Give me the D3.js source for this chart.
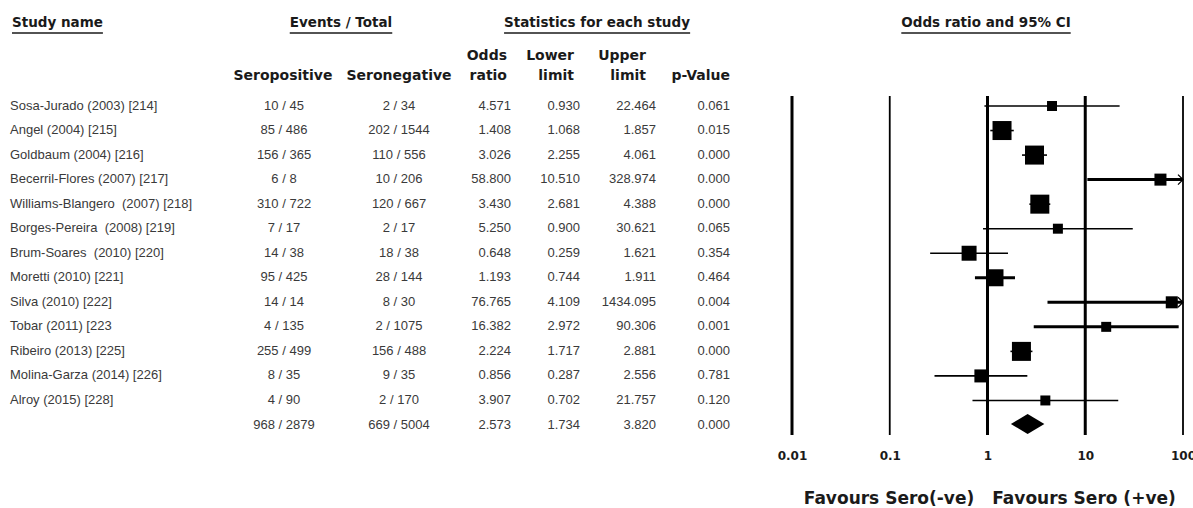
<!DOCTYPE html>
<html>
<head>
<meta charset="utf-8">
<script src="https://cdn.jsdelivr.net/npm/d3@7"></script>
<style>
  html, body { margin: 0; padding: 0; background: #fff; }
  svg { display: block; }
  .hdr { font-family: "DejaVu Sans", sans-serif; font-weight: bold; fill: #1a1a1a; }
  .cell { font-family: "Liberation Sans", Arial, sans-serif; font-size: 13px; fill: #3a3a3a; white-space: pre; }
</style>
</head>
<body>
<div id="forest"></div>
<script>
// Forest plot: seropositivity and odds ratio per study
const studies = [
  "Sosa-Jurado (2003) [214]", "Angel (2004) [215]", "Goldbaum (2004) [216]",
  "Becerril-Flores (2007) [217]", "Williams-Blangero  (2007) [218]", "Borges-Pereira  (2008) [219]",
  "Brum-Soares  (2010) [220]", "Moretti (2010) [221]", "Silva (2010) [222]",
  "Tobar (2011) [223", "Ribeiro (2013) [225]", "Molina-Garza (2014) [226]", "Alroy (2015) [228]"
];
const seroPos = ["10 / 45", "85 / 486", "156 / 365", "6 / 8", "310 / 722", "7 / 17", "14 / 38",
  "95 / 425", "14 / 14", "4 / 135", "255 / 499", "8 / 35", "4 / 90"];
const seroNeg = ["2 / 34", "202 / 1544", "110 / 556", "10 / 206", "120 / 667", "2 / 17", "18 / 38",
  "28 / 144", "8 / 30", "2 / 1075", "156 / 488", "9 / 35", "2 / 170"];
const oddsRatio = [4.571, 1.408, 3.026, 58.800, 3.430, 5.250, 0.648, 1.193, 76.765, 16.382, 2.224, 0.856, 3.907];
const lowerLimit = [0.930, 1.068, 2.255, 10.510, 2.681, 0.900, 0.259, 0.744, 4.109, 2.972, 1.717, 0.287, 0.702];
const upperLimit = [22.464, 1.857, 4.061, 328.974, 4.388, 30.621, 1.621, 1.911, 1434.095, 90.306, 2.881, 2.556, 21.757];
const pValue = [0.061, 0.015, 0.000, 0.000, 0.000, 0.065, 0.354, 0.464, 0.004, 0.001, 0.000, 0.781, 0.120];
// relative weight (%)
const weight = [4.0, 14.5, 14.5, 5.8, 14.5, 4.0, 9.0, 11.6, 5.8, 4.0, 14.5, 6.8, 4.0];

const totalRow = { pos: "968 / 2879", neg: "669 / 5004", or: 2.573, lo: 1.734, hi: 3.820, p: 0.000 };

const axisTicks = [0.01, 0.1, 1, 10, 100];
const favourLabels = ["Favours Sero(-ve)", "Favours Sero (+ve)"];

// ---- layout ----
const W = 1193, H = 508;
const svg = d3.select("#forest").append("svg").attr("width", W).attr("height", H);

const x = d3.scaleLog().domain([0.01, 100]).range([792, 1183]);
const y = d3.scalePoint().domain(d3.range(studies.length + 1)).range([105, 424]);
const box = d3.scaleSqrt().domain([0, d3.max(weight)]).range([0, 19]);

const fmt3 = d3.format(".3f");

// top headers with underline
const tops = [
  { t: "Study name", x: 12, anchor: "start" },
  { t: "Events / Total", x: 341, anchor: "middle" },
  { t: "Statistics for each study", x: 597, anchor: "middle" },
  { t: "Odds ratio and 95% CI", x: 986, anchor: "middle" }
];
tops.forEach(h => {
  const t = svg.append("text").attr("class", "hdr").style("font-size", "13.5px")
    .attr("x", h.x).attr("y", 27).attr("text-anchor", h.anchor).text(h.t);
  const bb = t.node().getBBox();
  svg.append("line").attr("x1", bb.x).attr("x2", bb.x + bb.width)
    .attr("y1", 33).attr("y2", 33).attr("stroke", "#1a1a1a").attr("stroke-width", 1.5);
});

// column headers
const colHdr = [
  { lines: ["Seropositive"], x: 283, anchor: "middle" },
  { lines: ["Seronegative"], x: 399, anchor: "middle" },
  { lines: ["Odds", "ratio"], x: 507, anchor: "end" },
  { lines: ["Lower", "limit"], x: 574, anchor: "end" },
  { lines: ["Upper", "limit"], x: 646, anchor: "end" },
  { lines: ["p-Value"], x: 730, anchor: "end" }
];
colHdr.forEach(c => {
  const n = c.lines.length;
  c.lines.forEach((ln, i) => {
    svg.append("text").attr("class", "hdr").style("font-size", "14px")
      .attr("x", c.x).attr("y", 80 - (n - 1 - i) * 20)
      .attr("text-anchor", c.anchor).text(ln);
  });
});

// table cells
const rows = studies.map((s, i) => ({
  i, name: s, pos: seroPos[i], neg: seroNeg[i],
  or: oddsRatio[i], lo: lowerLimit[i], hi: upperLimit[i], p: pValue[i], w: weight[i]
}));
const allRows = rows.concat([Object.assign({ i: studies.length, name: "" }, totalRow)]);

const cols = [
  { get: d => d.name, x: 10, anchor: "start" },
  { get: d => d.pos, x: 284, anchor: "middle" },
  { get: d => d.neg, x: 399, anchor: "middle" },
  { get: d => fmt3(d.or), x: 511, anchor: "end" },
  { get: d => fmt3(d.lo), x: 580, anchor: "end" },
  { get: d => fmt3(d.hi), x: 656, anchor: "end" },
  { get: d => fmt3(d.p), x: 730, anchor: "end" }
];
const rowG = svg.selectAll("g.row").data(allRows).join("g").attr("class", "row")
  .attr("transform", d => `translate(0,${y(d.i) + 4.5})`);
cols.forEach(c => {
  rowG.append("text").attr("class", "cell").attr("x", c.x)
    .attr("text-anchor", c.anchor).text(c.get);
});

// reference lines (drawn heavier at 0.01, 1, 10 as in the source)
const lineW = { 0.01: 3, 0.1: 1.8, 1: 3, 10: 3, 100: 1.8 };
svg.selectAll("line.ref").data(axisTicks).join("line").attr("class", "ref")
  .attr("x1", d => x(d)).attr("x2", d => x(d))
  .attr("y1", 96).attr("y2", 435)
  .attr("stroke", "#000").attr("stroke-width", d => lineW[d]);

// axis labels (the last one runs off the right edge, as in the source)
const ax = svg.append("g").attr("transform", "translate(0,448)")
  .call(d3.axisBottom(x).tickValues(axisTicks).tickSize(0).tickFormat(d => String(d)));
ax.select(".domain").remove();
ax.selectAll("text").attr("font-family", "DejaVu Sans, sans-serif")
  .attr("font-weight", "bold").attr("font-size", 12).attr("fill", "#1a1a1a");

// CI whiskers
const thick = new Set([3, 7, 8, 9]);
const xMax = x.domain()[1];
const ci = svg.selectAll("g.ci").data(rows).join("g").attr("class", "ci");
ci.append("line")
  .attr("x1", d => x(Math.max(d.lo, 0.01))).attr("x2", d => x(Math.min(d.hi, xMax)))
  .attr("y1", d => y(d.i) + 1).attr("y2", d => y(d.i) + 1)
  .attr("stroke", "#000").attr("stroke-width", d => thick.has(d.i) ? 3 : 1.6);
ci.filter(d => d.hi > xMax).append("path")
  .attr("d", d => {
    const ax0 = x(xMax), ay = y(d.i) + 1;
    return `M${ax0 - 5},${ay - 5}L${ax0},${ay}L${ax0 - 5},${ay + 5}`;
  })
  .attr("fill", "none").attr("stroke", "#000").attr("stroke-width", 1.3);
ci.append("rect")
  .attr("x", d => x(d.or) - box(d.w) / 2).attr("y", d => y(d.i) + 1 - box(d.w) / 2)
  .attr("width", d => box(d.w)).attr("height", d => box(d.w))
  .attr("fill", "#000");

// summary diamond
const yd = y(studies.length);
svg.append("path")
  .attr("d", `M${x(totalRow.lo)},${yd}L${x(totalRow.or)},${yd - 10}L${x(totalRow.hi)},${yd}L${x(totalRow.or)},${yd + 10}Z`)
  .attr("fill", "#000");

// favours labels
svg.selectAll("text.fav").data(favourLabels).join("text").attr("class", "hdr fav")
  .style("font-size", "17px")
  .attr("x", (d, i) => i === 0 ? 889 : 1084).attr("y", 504)
  .attr("text-anchor", "middle").text(d => d);
</script>
</body>
</html>
